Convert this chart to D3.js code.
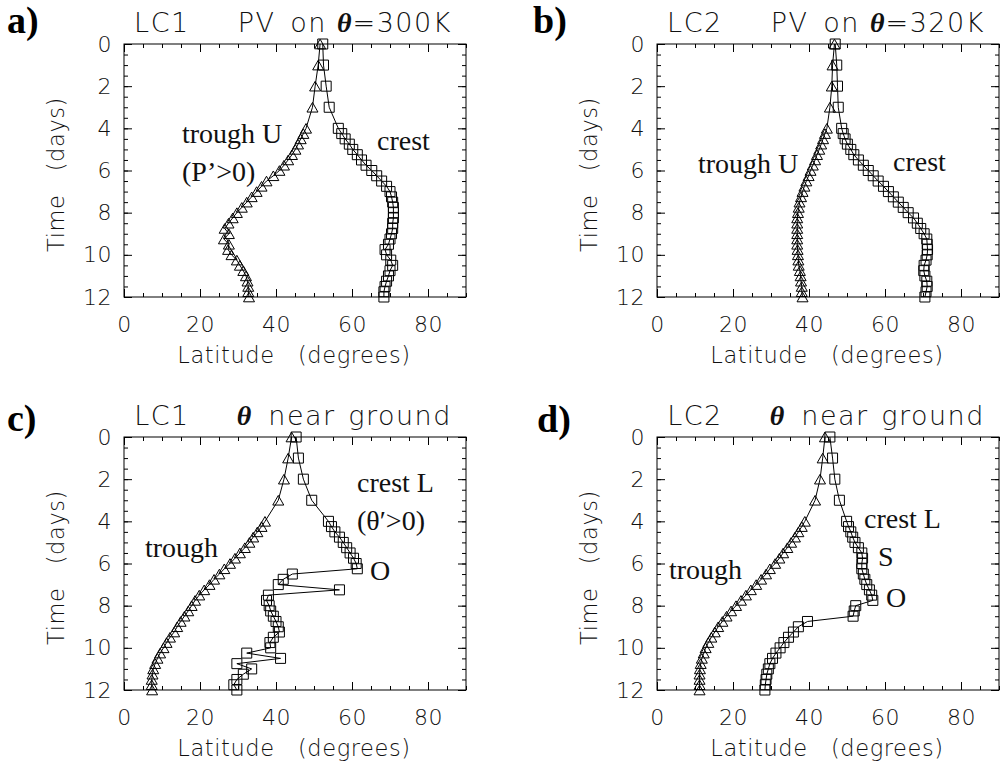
<!DOCTYPE html>
<html>
<head>
<meta charset="utf-8">
<script src="https://cdn.jsdelivr.net/npm/d3@7"></script>
<style>
body { margin: 0; background: #fff; }
</style>
</head>
<body>
<svg id="chart" width="1006" height="764"></svg>
<script>
// time of each sample (days)
var times = [0, 1, 2, 3, 4, 4.25, 4.5, 4.75, 5, 5.25, 5.5, 5.75, 6, 6.25, 6.5, 6.75, 7, 7.25, 7.5, 7.75,
  8, 8.25, 8.5, 8.75, 9, 9.25, 9.5, 9.75, 10, 10.25, 10.5, 10.75, 11, 11.25, 11.5, 11.75, 12];

// latitude (degrees) of trough / crest
var lc1PvTrough = [51.6, 51.1, 50.3, 49.6, 47.9, 47.2, 46.5, 45.8, 45.1, 44.2, 43.2, 42.1, 40.9, 39.3, 37.5, 36.2,
  34.9, 33.6, 32.3, 31.0, 29.7, 28.6, 27.5, 26.5, 27.6, 26.3, 27.6, 27.4, 28.3, 29.7, 30.5, 31.4, 32.1, 32.5, 32.7, 32.7, 32.9];
var lc1PvCrest = [52.3, 52.5, 53.2, 54.0, 56.4, 57.3, 58.2, 59.3, 60.2, 61.4, 62.5, 63.7, 65.2, 66.5, 67.8, 69.1,
  70.0, 70.4, 70.7, 70.9, 70.9, 70.9, 70.7, 70.7, 70.4, 70.0, 69.6, 68.7, 69.1, 70.2, 70.7, 70.0, 69.6, 69.1, 68.7, 68.4, 68.4];
var lc2PvTrough = [46.7, 46.2, 46.0, 45.5, 44.7, 44.2, 43.7, 43.2, 42.7, 42.1, 41.6, 41.0, 40.4, 39.9, 39.3, 38.8,
  38.3, 37.9, 37.5, 37.3, 37.1, 36.9, 36.9, 36.9, 36.9, 36.9, 36.9, 37.0, 37.1, 37.2, 37.3, 37.6, 37.8, 37.9, 38.1, 38.1, 38.3];
var lc2PvCrest = [46.9, 47.3, 47.5, 47.7, 48.6, 49.0, 49.5, 50.1, 51.0, 51.8, 53.0, 54.3, 55.6, 56.9, 58.2, 59.6,
  60.9, 62.2, 63.5, 64.8, 66.1, 67.5, 68.5, 69.4, 70.3, 71.0, 71.1, 71.2, 71.1, 70.8, 70.3, 70.2, 70.5, 71.0, 71.1, 70.8, 70.5];
var lc1GroundTrough = [44.1, 43.2, 42.1, 40.6, 37.1, 36.2, 35.1, 34.0, 33.0, 31.8, 30.5, 29.2, 27.9, 26.4, 25.1, 23.7,
  22.5, 21.1, 19.8, 18.7, 17.8, 16.9, 15.9, 14.9, 14.0, 13.2, 12.1, 11.2, 10.4, 9.5, 8.8, 8.2, 7.7, 7.5, 7.3, 7.3, 7.4];
var lc1GroundCrest = [45.3, 45.9, 47.2, 49.4, 53.8, 54.6, 55.5, 56.7, 57.7, 58.6, 59.5, 60.4, 61.1, 61.4, 44.3, 41.9,
  40.6, 56.7, 38.0, 37.5, 38.2, 38.6, 39.3, 40.0, 40.6, 40.9, 39.3, 38.4, 38.6, 32.3, 41.2, 29.7, 33.6, 31.4, 29.7, 28.9, 29.7];
var lc2GroundTrough = [44.2, 43.6, 42.9, 41.6, 38.9, 38.1, 37.2, 36.3, 35.3, 34.3, 33.2, 32.2, 31.1, 29.7, 28.7, 27.4,
  26.1, 24.7, 23.4, 22.1, 20.8, 19.5, 18.3, 17.2, 16.1, 15.2, 14.3, 13.5, 12.8, 12.3, 11.8, 11.5, 11.3, 11.2, 11.2, 11.2, 11.2];
var lc2GroundCrest = [45.5, 46.2, 46.8, 48.0, 49.9, 50.4, 51.0, 51.5, 52.1, 53.0, 53.9, 54.1, 53.9, 53.9, 54.3, 54.7,
  55.2, 55.9, 56.5, 56.8, 52.3, 51.9, 51.6, 39.6, 37.2, 35.9, 34.6, 33.4, 32.4, 31.3, 30.4, 29.7, 29.3, 28.9, 28.7, 28.5, 28.4];

var latTicks = [0, 20, 40, 60, 80];
var dayTicks = [0, 2, 4, 6, 8, 10, 12];

var width = 1006, height = 764;
var plotW = 342, plotH = 253;
var sansFont = "'DejaVu Sans', sans-serif";
var serifFont = "'Liberation Serif', 'Times New Roman', serif";

var svg = d3.select("#chart");
svg.append("rect").attr("width", width).attr("height", height).attr("fill", "#fff");

var x = d3.scaleLinear().domain([0, 90]).range([0, plotW]);
var y = d3.scaleLinear().domain([0, 12]).range([0, plotH]);

// title pieces: [text, gap before, is theta]
var pvTitle = function(lc, lev) {
  return [[lc, 0, false], ["PV", 48, false], ["on", 17, false], ["\u03b8", 10, true], ["=" + lev, 1, false]];
};
var groundTitle = function(lc) {
  return [[lc, 0, false], ["\u03b8", 47, true], ["near", 17, false], ["ground", 13, false]];
};

var panels = [
  {left: 124, top: 44, tag: "a)", tagX: -117, tagY: -11, title: pvTitle("LC1", "300K"),
    trough: lc1PvTrough, crest: lc1PvCrest,
    notes: [["trough U", 58, 99], ["(P\u2019>0)", 58, 137], ["crest", 253, 106]]},
  {left: 657, top: 44, tag: "b)", tagX: -124, tagY: -11, title: pvTitle("LC2", "320K"),
    trough: lc2PvTrough, crest: lc2PvCrest,
    notes: [["trough U", 41, 129], ["crest", 236, 127]]},
  {left: 124, top: 437, tag: "c)", tagX: -117, tagY: -6, title: groundTitle("LC1"),
    trough: lc1GroundTrough, crest: lc1GroundCrest,
    notes: [["trough", 21, 120], ["crest L", 233, 55], ["(\u03b8\u2032>0)", 233, 93], ["O", 246, 143]]},
  {left: 657, top: 437, tag: "d)", tagX: -120, tagY: -5, title: groundTitle("LC2"),
    trough: lc2GroundTrough, crest: lc2GroundCrest,
    notes: [["trough", 12, 142], ["crest L", 207, 91], ["S", 221, 129], ["O", 229, 170]]}
];

var line = d3.line()
  .x(function(d) { return x(d[1]); })
  .y(function(d) { return y(d[0]); });

var trianglePath = "M-5.5,4.8L0,-4.8L5.5,4.8Z";
var squarePath = "M-5,-5H5V5H-5Z";

function styleAxis(sel) {
  sel.select(".domain").remove();
  sel.selectAll("line").attr("stroke", "#000").attr("stroke-width", 1);
  sel.selectAll("text")
    .attr("font-family", sansFont)
    .attr("font-weight", 200)
    .attr("font-size", 22)
    .attr("letter-spacing", 0.5)
    .attr("fill", "#111");
}

function drawAxes(g) {
  var minorLat = d3.range(0, 91, 5);
  var minorDay = d3.range(0, 12.01, 0.5);
  var blank = function() { return ""; };

  g.append("g").attr("transform", "translate(0," + plotH + ")")
    .call(d3.axisBottom(x).tickValues(minorLat).tickSize(-4).tickSizeOuter(0).tickFormat(blank)).call(styleAxis);
  g.append("g").attr("transform", "translate(0," + plotH + ")")
    .call(d3.axisBottom(x).tickValues(latTicks).tickSize(-8).tickSizeOuter(0).tickPadding(19)).call(styleAxis);
  g.append("g")
    .call(d3.axisTop(x).tickValues(minorLat).tickSize(-4).tickSizeOuter(0).tickFormat(blank)).call(styleAxis);
  g.append("g")
    .call(d3.axisTop(x).tickValues(latTicks).tickSize(-8).tickSizeOuter(0).tickFormat(blank)).call(styleAxis);

  g.append("g")
    .call(d3.axisLeft(y).tickValues(minorDay).tickSize(-4).tickSizeOuter(0).tickFormat(blank)).call(styleAxis);
  g.append("g")
    .call(d3.axisLeft(y).tickValues(dayTicks).tickSize(-8).tickSizeOuter(0).tickPadding(12)).call(styleAxis);
  g.append("g").attr("transform", "translate(" + plotW + ",0)")
    .call(d3.axisRight(y).tickValues(minorDay).tickSize(-4).tickSizeOuter(0).tickFormat(blank)).call(styleAxis);
  g.append("g").attr("transform", "translate(" + plotW + ",0)")
    .call(d3.axisRight(y).tickValues(dayTicks).tickSize(-8).tickSizeOuter(0).tickFormat(blank)).call(styleAxis);

  g.append("rect")
    .attr("width", plotW).attr("height", plotH)
    .attr("fill", "none").attr("stroke", "#000").attr("stroke-width", 1);

  g.append("text")
    .attr("x", plotW / 2 - 1).attr("y", plotH + 66)
    .attr("text-anchor", "middle")
    .attr("font-family", sansFont).attr("font-weight", 200).attr("font-size", 22.5)
    .attr("letter-spacing", 0.6)
    .attr("fill", "#111").style("white-space", "pre")
    .text("Latitude   (degrees)");

  g.append("text")
    .attr("transform", "translate(-60," + (plotH / 2 + 4) + ") rotate(-90)")
    .attr("text-anchor", "middle")
    .attr("font-family", sansFont).attr("font-weight", 200).attr("font-size", 22.5)
    .attr("letter-spacing", 0.6)
    .attr("fill", "#111").style("white-space", "pre")
    .text("Time   (days)");
}

function drawSeries(g, values, shape) {
  var pts = d3.zip(times, values);
  g.append("path")
    .datum(pts)
    .attr("d", line)
    .attr("fill", "none")
    .attr("stroke", "#000")
    .attr("stroke-width", 1);
  g.selectAll(null)
    .data(pts)
    .enter()
    .append("path")
    .attr("d", shape)
    .attr("transform", function(d) { return "translate(" + x(d[1]) + "," + y(d[0]) + ")"; })
    .attr("fill", "none")
    .attr("stroke", "#000")
    .attr("stroke-width", 1);
}

function drawPanel(p) {
  var g = svg.append("g").attr("transform", "translate(" + p.left + "," + p.top + ")");

  drawAxes(g);
  drawSeries(g, p.trough, trianglePath);
  drawSeries(g, p.crest, squarePath);

  // title
  var title = g.append("text")
    .attr("x", plotW / 2 - 2).attr("y", -12)
    .attr("text-anchor", "middle")
    .attr("font-family", sansFont).attr("font-weight", 200).attr("font-size", 27)
    .attr("letter-spacing", 1.5)
    .attr("fill", "#111");
  p.title.forEach(function(part) {
    var t = title.append("tspan").attr("dx", part[1]).text(part[0]);
    if (part[2]) {
      t.attr("font-family", serifFont).attr("font-style", "italic").attr("font-weight", "bold")
        .attr("font-size", 28).attr("letter-spacing", 0);
    }
  });

  // panel letter
  g.append("text")
    .attr("x", p.tagX).attr("y", p.tagY)
    .attr("font-family", serifFont).attr("font-weight", "bold").attr("font-size", 38)
    .attr("fill", "#000")
    .text(p.tag);

  // labels
  p.notes.forEach(function(n) {
    g.append("text")
      .attr("x", n[1]).attr("y", n[2])
      .attr("font-family", serifFont).attr("font-size", 28)
      .attr("fill", "#111")
      .text(n[0]);
  });
}

panels.forEach(drawPanel);
</script>
</body>
</html>
